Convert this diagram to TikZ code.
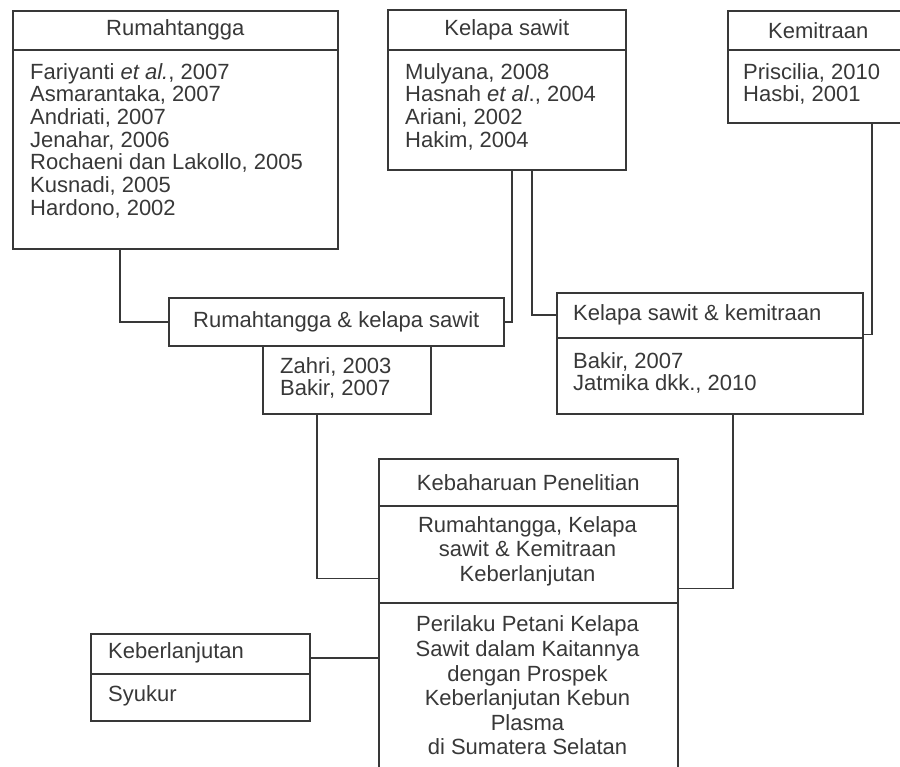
\documentclass[tikz,border=0pt]{standalone}
\usepackage{fontspec}
\setmainfont{Liberation Sans}
\definecolor{ink}{HTML}{383838}
\begin{document}
\begin{tikzpicture}[x=1pt,y=-1pt,
  part/.style={draw=ink, line width=1.6pt, anchor=north west, inner sep=0pt, text=ink, font=\fontsize{22}{22.7}\selectfont},
  lst/.style={anchor=north west, inner sep=0pt, align=left, text=ink, font=\fontsize{22}{22.7}\selectfont},
  ctr/.style={inner sep=0pt, align=center, text=ink, font=\fontsize{22}{24.6}\selectfont},
  lbl/.style={anchor=west, inner sep=0pt, text=ink, font=\fontsize{22}{22.7}\selectfont},
  link/.style={draw=ink, line width=1.6pt}]
\useasboundingbox (0,0) rectangle (900,767);
\clip (0,0) rectangle (900,767);
% Rumahtangga
\node[part, minimum width=325pt, minimum height=39pt] (rhh) at (12,10) {Rumahtangga};
\node[part, minimum width=325pt, minimum height=199pt] (rhb) at (12,49) {};
\node[lst] (rht) at (30,63) {Fariyanti \textit{et al.}, 2007\\Asmarantaka, 2007\\Andriati, 2007\\Jenahar, 2006\\Rochaeni dan Lakollo, 2005\\Kusnadi, 2005\\Hardono, 2002};
% Kelapa sawit
\node[part, minimum width=238pt, minimum height=40pt] (ksh) at (387,9) {Kelapa sawit};
\node[part, minimum width=238pt, minimum height=120pt] (ksb) at (387,49) {};
\node[lst] (kst) at (405,63) {Mulyana, 2008\\Hasnah \textit{et al}., 2004\\Ariani, 2002\\Hakim, 2004};
% Kemitraan
\node[part, minimum width=181pt, minimum height=39pt] (kmh) at (727,10) {Kemitraan};
\node[part, minimum width=181pt, minimum height=73pt] (kmb) at (727,49) {};
\node[lst] (kmt) at (743,63) {Priscilia, 2010\\Hasbi, 2001};
% Rumahtangga & kelapa sawit
\node[part, minimum width=335pt, minimum height=48pt] (rk) at (168,297) {Rumahtangga \& kelapa sawit};
\node[part, minimum width=168pt, minimum height=68pt] (zb) at (262,345) {};
\node[lst] (zt) at (280,357) {Zahri, 2003\\Bakir, 2007};
% Kelapa sawit & kemitraan
\node[part, minimum width=306pt, minimum height=45pt] (kkh) at (556,292) {};
\node[lbl] (kkl) at (573,314.5) {Kelapa sawit \& kemitraan};
\node[part, minimum width=306pt, minimum height=76pt] (kkb) at (556,337) {};
\node[lst] (kkt) at (573,352) {Bakir, 2007\\Jatmika dkk., 2010};
% Kebaharuan Penelitian
\node[part, minimum width=299pt, minimum height=47pt] (kbh) at (378,458) {Kebaharuan Penelitian};
\node[part, minimum width=299pt, minimum height=97pt] (kbm) at (378,505) {};
\node[ctr] (kbmt) at (527.5,551) {Rumahtangga, Kelapa\\sawit \& Kemitraan\\Keberlanjutan};
\node[part, minimum width=299pt, minimum height=165pt] (kbb) at (378,602) {};
\node[ctr] (kbbt) at (527.5,685.5) {Perilaku Petani Kelapa\\Sawit dalam Kaitannya\\dengan Prospek\\Keberlanjutan Kebun\\Plasma\\di Sumatera Selatan};
% Keberlanjutan
\node[part, minimum width=219pt, minimum height=40pt] (klh) at (90,633) {};
\node[lbl] (kll) at (108,653) {Keberlanjutan};
\node[part, minimum width=219pt, minimum height=47pt] (klb) at (90,673) {};
\node[lbl] (klt) at (108,696) {Syukur};
% connector columns
\coordinate (c120) at (120,0);
\coordinate (c512) at (512,0);
\coordinate (c532) at (532,0);
\coordinate (c872) at (872,0);
\coordinate (c317) at (317,0);
\coordinate (c733) at (733,0);
\draw[link] (rhb.south -| c120) |- (rk.west);
\draw[link] (ksb.south -| c512) |- (rk.east);
\draw[link] (ksb.south -| c532) |- (kkh.west);
\draw[link] (kmb.south -| c872) |- ([yshift=4pt]kkh.south east);
\draw[link] (zb.south -| c317) |- ([yshift=25pt]kbm.south west);
\draw[link] (kkb.south -| c733) |- ([yshift=15pt]kbm.south east);
\draw[link] ([yshift=-4pt]klh.east) -- ([yshift=-4pt]klh.east -| kbb.west);
\end{tikzpicture}
\end{document}
